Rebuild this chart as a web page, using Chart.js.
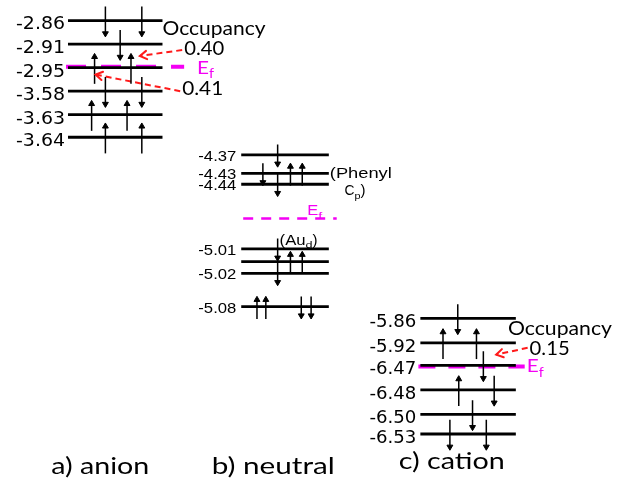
<!DOCTYPE html>
<html><head><meta charset="utf-8">
<script src="https://cdn.jsdelivr.net/npm/chart.js@4/dist/chart.umd.min.js"></script>
<style>html,body{margin:0;padding:0;background:#fff;overflow:hidden}#wrap{width:636px;height:487px}</style>
</head><body><div id="wrap"><canvas id="c" width="636" height="487"></canvas></div>
<script>
// ---------------- data ----------------
const panelTitles = ['a) anion', 'b) neutral', 'c) cation'];
const anionLevels   = [-2.86, -2.91, -2.95, -3.58, -3.63, -3.64];
const neutralLevels = [-4.37, -4.43, -4.44, -5.01, -5.01, -5.02, -5.08];
const neutralLabels = ['-4.37', '-4.43', '-4.44', '-5.01', '', '-5.02', '-5.08'];
const cationLevels  = [-5.86, -5.92, -6.47, -6.48, -6.50, -6.53];
const fermiLevels   = [-2.95, -4.72, -6.47];
// spins: [levelIndex, direction]  (+1 = spin up, -1 = spin down)
const anionSpins   = [[0,-1],[0,-1],[1,-1],[2,1],[2,1],[3,-1],[3,-1],[4,1],[4,1],[5,1],[5,1]];
const neutralSpins = [[0,-1],[1,1],[1,1],[1,-1],[2,-1],[3,-1],[4,1],[4,1],[5,-1],[6,1],[6,1],[6,-1],[6,-1]];
const cationSpins  = [[0,-1],[1,1],[1,1],[2,-1],[3,1],[3,-1],[4,-1],[5,-1],[5,-1]];
const anionOccupancy  = [0.40, 0.41];
const cationOccupancy = [0.15];

// ---------------- layout (schematic diagram positions) ----------------
const LAYOUT = {
  anion:   { x0: 64,  x1: 160, rows: [16, 40, 64, 88, 112, 135], ef: { y: 63, x0: 62, x1: 182, dash: [20, 15], w: 4 },
             arrowX: [102, 139, 117, 91, 128, 102, 139, 88, 124, 102, 139], arrowLen: 31, labelRight: 61, font: 'DejaVu Sans', size: 17, labelW: 49 },
  neutral: { x0: 240, x1: 329, rows: [153, 172, 183, 249, 262, 274, 308], ef: { y: 218, x0: 242, x1: 337, dash: [10, 8], w: 2.5 },
             arrowX: [277, 290, 302, 262, 277, 277, 290, 302, 277, 256, 265, 301, 311], arrowLen: 23, labelRight: 235, font: 'Liberation Sans', size: 15, labelW: 38 },
  cation:  { x0: 422, x1: 519, rows: [320, 345, 368, 393, 418, 438], ef: { y: 369, x0: 420, x1: 528, dash: [17, 13], w: 4 },
             arrowX: [460, 445, 479, 486, 461, 497, 475, 452, 489], arrowLen: 31, labelRight: 418, font: 'DejaVu Sans', size: 17, labelW: 47 }
};

const MAGENTA = '#f400f4';
const RED = '#ff1a1a';

const datasets = [];
function addLine(pts, opts) {
  datasets.push(Object.assign({ type: 'line', data: pts, showLine: true, pointRadius: 0, borderColor: '#000', borderWidth: 2.5, fill: false, tension: 0 }, opts || {}));
}
function buildPanel(lay, levels, spins, efValue) {
  // energy levels
  levels.forEach((e, i) => addLine([{ x: lay.x0, y: lay.rows[i] }, { x: lay.x1, y: lay.rows[i] }], { borderWidth: 2.8 }));
  // spin arrows
  spins.forEach(([lvl, dir], k) => {
    const yc = lay.rows[lvl] + 1;
    const half = lay.arrowLen / 2;
    const tail = yc + half * dir;
    const tip = yc - half * dir;
    const r = 3.4;
    addLine([{ x: lay.arrowX[k], y: tail }, { x: lay.arrowX[k], y: tip + r * dir }], {
      borderWidth: 1.5,
      pointRadius: [0, r], pointStyle: 'triangle', pointRotation: dir > 0 ? 0 : 180,
      pointBackgroundColor: '#000', pointBorderColor: '#000', pointBorderWidth: 1
    });
  });
  // fermi level
  addLine([{ x: lay.ef.x0, y: lay.ef.y }, { x: lay.ef.x1, y: lay.ef.y }], { borderColor: MAGENTA, borderWidth: lay.ef.w, borderDash: lay.ef.dash, borderCapStyle: 'butt' });
}
buildPanel(LAYOUT.anion, anionLevels, anionSpins, fermiLevels[0]);
buildPanel(LAYOUT.neutral, neutralLevels, neutralSpins, fermiLevels[1]);
buildPanel(LAYOUT.cation, cationLevels, cationSpins, fermiLevels[2]);

// occupancy pointer arrows (red dashed)
const pointers = [
  { from: { x: 180, y: 46 }, to: { x: 137, y: 52 } },
  { from: { x: 178, y: 88 }, to: { x: 92, y: 71 } },
  { from: { x: 531, y: 350 }, to: { x: 499, y: 357 } }
];
pointers.forEach(p => addLine([p.from, p.to], { borderColor: RED, borderWidth: 2, borderDash: [6, 4] }));

// ---------------- text plugin ----------------
function txt(ctx, s, x, y, font, color, align, w) {
  ctx.save();
  ctx.font = font;
  ctx.fillStyle = color;
  ctx.textBaseline = 'alphabetic';
  const m = ctx.measureText(s).width;
  const sx = w ? w / m : 1;
  ctx.translate(x, y);
  ctx.scale(sx, 1);
  ctx.textAlign = 'left';
  const dx = align === 'right' ? -m : (align === 'center' ? -m / 2 : 0);
  ctx.fillText(s, dx, 0);
  ctx.restore();
  return m * sx;
}
const textPlugin = {
  id: 'texts',
  afterDatasetsDraw(chart) {
    const ctx = chart.ctx;
    const X = v => chart.scales.x.getPixelForValue(v);
    const Y = v => chart.scales.y.getPixelForValue(v);
    // energy labels
    const drawLabels = (lay, levels, labels, dy) => {
      levels.forEach((e, i) => {
        const s = labels ? labels[i] : e.toFixed(2);
        if (!s) return;
        txt(ctx, s, X(lay.labelRight), Y(lay.rows[i] + dy), lay.size + 'px "' + lay.font + '"', '#000', 'right', lay.labelW);
      });
    };
    drawLabels(LAYOUT.anion, anionLevels, null, 9);
    drawLabels(LAYOUT.neutral, neutralLabels.map(Number), neutralLabels, 6);
    drawLabels(LAYOUT.cation, cationLevels, null, 9);

    const cal = sz => sz + 'px Lato';
    // anion annotations
    txt(ctx, 'Occupancy', X(160), Y(31), cal(19), '#000', 'left', 103);
    txt(ctx, anionOccupancy[0].toFixed(2), X(182), Y(51), cal(19), '#000', 'left', 40);
    txt(ctx, anionOccupancy[1].toFixed(2), X(180), Y(92), cal(19), '#000', 'left', 41);
    let w = txt(ctx, 'E', X(195), Y(70), cal(18), MAGENTA, 'left', 12);
    txt(ctx, 'f', X(195) + w, Y(75), cal(13), MAGENTA, 'left', 5);
    // neutral annotations
    w = txt(ctx, 'E', X(307), Y(214), '14px "Liberation Sans"', MAGENTA, 'left', 11);
    txt(ctx, 'f', X(307) + w, Y(218), '9px "Liberation Sans"', MAGENTA, 'left', 4);
    txt(ctx, '(Phenyl', X(330), Y(177), '15px "Liberation Sans"', '#000', 'left', 62);
    w = txt(ctx, 'C', X(345), Y(194), '15px "Liberation Sans"', '#000', 'left', 10);
    let w2 = txt(ctx, 'p', X(345) + w, Y(198), '9.5px "Liberation Sans"', '#000', 'left', 6);
    txt(ctx, ')', X(345) + w + w2, Y(194), '15px "Liberation Sans"', '#000', 'left', 5);
    w = txt(ctx, '(Au', X(279), Y(245), '15px "Liberation Sans"', '#000', 'left', 26);
    w2 = txt(ctx, 'd', X(279) + w, Y(248), '9.5px "Liberation Sans"', '#000', 'left', 7);
    txt(ctx, ')', X(279) + w + w2, Y(245), '15px "Liberation Sans"', '#000', 'left', 5);
    // cation annotations
    txt(ctx, 'Occupancy', X(511), Y(337), cal(19), '#000', 'left', 104);
    txt(ctx, cationOccupancy[0].toFixed(2), X(533), Y(357), cal(19), '#000', 'left', 40);
    w = txt(ctx, 'E', X(530), Y(375), cal(18), MAGENTA, 'left', 12);
    txt(ctx, 'f', X(530) + w, Y(380), cal(13), MAGENTA, 'left', 5);

    // red chevrons at pointer tips
    pointers.forEach(p => {
      const fx = X(p.from.x), fy = Y(p.from.y), tx = X(p.to.x), ty = Y(p.to.y);
      const a = Math.atan2(fy - ty, fx - tx);
      const L = 8, sp = 0.55;
      ctx.save();
      ctx.strokeStyle = RED; ctx.lineWidth = 2; ctx.lineCap = 'round';
      ctx.beginPath();
      ctx.moveTo(tx + L * Math.cos(a + sp), ty + L * Math.sin(a + sp));
      ctx.lineTo(tx, ty);
      ctx.lineTo(tx + L * Math.cos(a - sp), ty + L * Math.sin(a - sp));
      ctx.stroke();
      ctx.restore();
    });

    // panel titles
    txt(ctx, panelTitles[0], X(47), Y(479), cal(24), '#000', 'left', 98);
    txt(ctx, panelTitles[1], X(210), Y(479), cal(24), '#000', 'left', 123);
    txt(ctx, panelTitles[2], X(400), Y(474), cal(24), '#000', 'left', 106);
  }
};

new Chart(document.getElementById('c'), {
  type: 'scatter',
  data: { datasets },
  options: {
    responsive: false,
    animation: false,
    events: [],
    layout: { padding: 0 },
    plugins: { legend: { display: false }, tooltip: { enabled: false } },
    scales: {
      x: { type: 'linear', min: 0, max: 636, display: false },
      y: { type: 'linear', min: 0, max: 487, reverse: true, display: false }
    }
  },
  plugins: [textPlugin]
});
</script>
</body></html>
